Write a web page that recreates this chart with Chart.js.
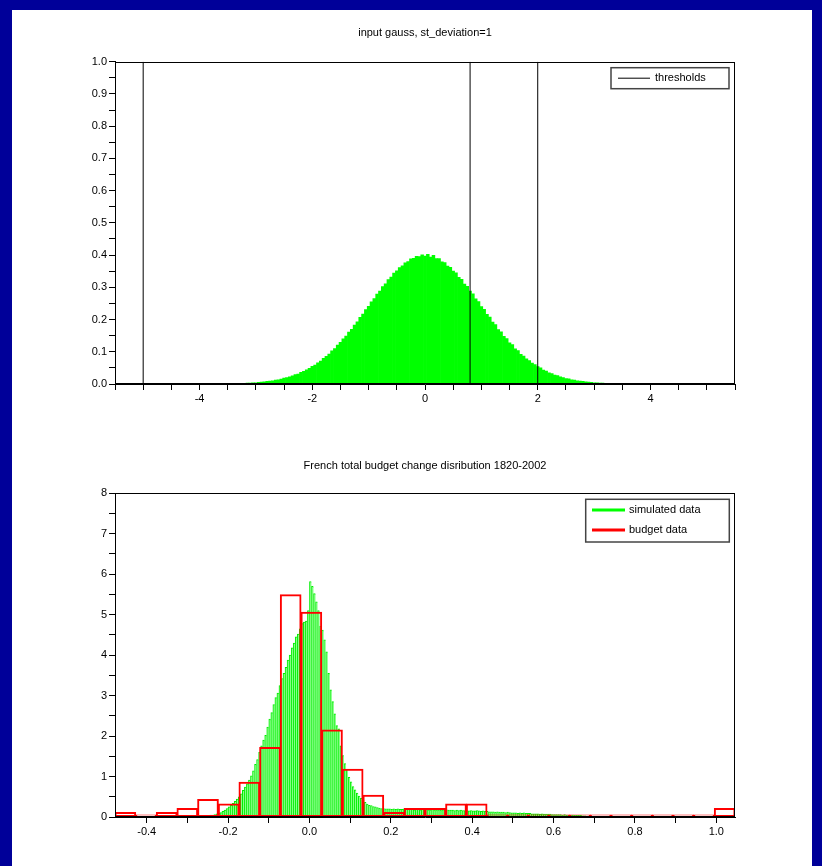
<!DOCTYPE html>
<html>
<head>
<meta charset="utf-8">
<script src="https://cdn.jsdelivr.net/npm/chart.js@4.4.1/dist/chart.umd.min.js"></script>
<style>
html,body{margin:0;padding:0;width:822px;height:866px;overflow:hidden;background:#000099;}
#panel{position:absolute;left:12px;top:10px;width:800px;height:856px;background:#ffffff;}
canvas{position:absolute;left:0;}
#c1{top:0;}
#c2{top:430px;}
</style>
</head>
<body>
<div id="panel"></div>
<canvas id="c1" width="822" height="430"></canvas>
<canvas id="c2" width="822" height="436"></canvas>
<script>
// ---------- DATA ----------
// Top chart: histogram of gaussian input (density), bin centres start at -3.5, width 0.05
const gaussTitle = 'input gauss, st_deviation=1';
const gaussFirstCenter = -3.5;
const gaussBinWidth = 0.05;
const gaussDensity = [
  0.000,0.000,0.001,0.001,0.002,0.002,0.002,0.003,0.003,0.004,
  0.004,0.005,0.006,0.007,0.008,0.009,0.010,0.012,0.013,0.015,
  0.018,0.020,0.022,0.025,0.029,0.031,0.036,0.039,0.044,0.049,
  0.055,0.059,0.066,0.071,0.080,0.086,0.093,0.103,0.110,0.121,
  0.129,0.140,0.149,0.161,0.170,0.183,0.193,0.207,0.217,0.231,
  0.241,0.255,0.265,0.279,0.288,0.302,0.311,0.324,0.332,0.344,
  0.351,0.361,0.367,0.376,0.380,0.388,0.390,0.396,0.395,0.401,
  0.397,0.402,0.394,0.399,0.389,0.389,0.379,0.377,0.366,0.362,
  0.350,0.345,0.331,0.325,0.310,0.303,0.288,0.280,0.264,0.256,
  0.240,0.232,0.216,0.208,0.192,0.184,0.169,0.162,0.148,0.141,
  0.128,0.122,0.109,0.104,0.092,0.087,0.078,0.073,0.065,0.060,
  0.054,0.050,0.043,0.040,0.035,0.032,0.028,0.026,0.022,0.020,
  0.017,0.016,0.013,0.012,0.010,0.009,0.008,0.007,0.006,0.005,
  0.004,0.004,0.003,0.003,0.002,0.002,0.002,0.001,0.001,0.000,
  0.000
];
const thresholds = [-5, 0.8, 2];
const thresholdLabel = 'thresholds';
const gaussXTicks = {min: -5.5, max: 5.5, step: 0.5, labelEvery: 2};
const gaussYTicks = {min: 0, max: 1, step: 0.05};

// Bottom chart
const budgetTitle = 'French total budget change disribution 1820-2002';
const simLabel = 'simulated data';
const simFirstCenter = -0.2975;
const simBinWidth = 0.005;
const simDensity = [
  0.01,0.01,0.01,0.02,0.02,0.02,0.03,0.03,0.03,0.04,
  0.04,0.05,0.05,0.06,0.08,0.09,0.11,0.14,0.17,0.21,
  0.25,0.29,0.34,0.39,0.44,0.50,0.57,0.66,0.74,0.82,
  0.91,1.02,1.14,1.30,1.42,1.60,1.76,1.90,2.02,2.22,
  2.42,2.58,2.78,2.95,3.06,3.25,3.42,3.55,3.70,3.88,
  4.00,4.18,4.30,4.45,4.52,4.65,4.78,4.82,4.84,5.10,
  5.82,5.70,5.52,5.32,5.10,4.72,4.62,4.38,4.08,3.55,
  3.14,2.85,2.55,2.26,2.18,1.76,1.52,1.32,1.18,0.98,
  0.87,0.75,0.67,0.59,0.52,0.46,0.42,0.36,0.32,0.29,
  0.28,0.26,0.25,0.23,0.22,0.21,0.21,0.20,0.20,0.20,
  0.19,0.20,0.19,0.20,0.19,0.19,0.20,0.19,0.19,0.19,
  0.19,0.18,0.19,0.19,0.18,0.19,0.18,0.19,0.18,0.18,
  0.19,0.18,0.18,0.18,0.17,0.18,0.17,0.18,0.17,0.17,
  0.17,0.16,0.17,0.16,0.17,0.16,0.16,0.16,0.15,0.16,
  0.15,0.15,0.16,0.15,0.14,0.15,0.14,0.14,0.13,0.13,
  0.13,0.12,0.13,0.12,0.12,0.12,0.11,0.12,0.11,0.10,
  0.10,0.10,0.09,0.10,0.09,0.10,0.09,0.09,0.09,0.08,
  0.08,0.08,0.08,0.07,0.08,0.07,0.07,0.07,0.07,0.06,
  0.06,0.06,0.06,0.06,0.05,0.06,0.05,0.05,0.05,0.05,
  0.04,0.04,0.04,0.04,0.03,0.03
];
const budgetLabel = 'budget data';
const budgetMin = -0.478;
const budgetBinWidth = 0.0508;
const budgetDensity = [
  0.11,0.00,0.11,0.21,0.43,0.32,0.86,1.72,5.49,5.06,
  2.15,1.18,0.54,0.11,0.21,0.21,0.32,0.32,0.00,0.00,
  0.00,0.00,0.00,0.00,0.00,0.00,0.00,0.00,0.00,0.21
];
const budgetXTicks = {min: -0.478, max: 1.046, step: 0.1};
const budgetYTicks = {min: 0, max: 8, step: 0.5};

// ---------- STYLE / HELPERS ----------
const FONT = '"Liberation Sans", Arial, Helvetica, sans-serif';
Chart.defaults.font.family = FONT;
Chart.defaults.font.size = 11;
Chart.defaults.color = '#000';

const frame = {
  id: 'frame',
  afterDraw(chart) {
    const a = chart.chartArea, ctx = chart.ctx;
    ctx.save();
    ctx.strokeStyle = '#000';
    ctx.lineWidth = 1;
    const l = Math.round(a.left) + 0.5, t = Math.round(a.top) + 0.5;
    const r = Math.round(a.right) - 0.5, b = Math.round(a.bottom) - 0.5;
    ctx.strokeRect(l, t, r - l, b - t);
    ctx.restore();
  }
};

const boxLegend = {
  id: 'boxLegend',
  afterDraw(chart, args, o) {
    if (!o || !o.display) return;
    const items = chart.data.datasets.filter(d => d.inLegend);
    const a = chart.chartArea, ctx = chart.ctx;
    const x1 = a.right - o.insetRight - o.width;
    const y1 = a.top + o.insetTop;
    ctx.save();
    ctx.fillStyle = '#fff';
    ctx.fillRect(x1, y1, o.width, o.height);
    ctx.strokeStyle = '#444';
    ctx.lineWidth = 1.5;
    ctx.strokeRect(x1, y1, o.width, o.height);
    ctx.font = '11px ' + FONT;
    ctx.textBaseline = 'middle';
    ctx.textAlign = 'left';
    items.forEach((d, i) => {
      const y = y1 + o.firstRow + i * o.rowGap;
      ctx.strokeStyle = d.legendColor;
      ctx.lineWidth = d.legendWidth;
      ctx.beginPath();
      ctx.moveTo(x1 + o.lineStart, y);
      ctx.lineTo(x1 + o.lineStart + o.lineLen, y);
      ctx.stroke();
      ctx.fillStyle = '#000';
      ctx.fillText(d.label, x1 + o.textStart, y);
    });
    ctx.restore();
  }
};

function axisCommon() {
  return {
    grid: {display: true, drawOnChartArea: false, drawTicks: true, tickLength: 6, color: '#000', offset: false},
    border: {display: true, color: '#000'},
  };
}

// ---------- TOP CHART ----------
const gaussPoints = gaussDensity.map((v, i) => ({x: gaussFirstCenter + i * gaussBinWidth, y: v}));
const thresholdPoints = [];
thresholds.forEach(t => { thresholdPoints.push({x: t, y: gaussYTicks.min}, {x: t, y: gaussYTicks.max}, {x: t, y: null}); });

new Chart(document.getElementById('c1'), {
  type: 'bar',
  data: {
    datasets: [
      {
        type: 'line', label: thresholdLabel, data: thresholdPoints,
        borderColor: '#000', borderWidth: 1, pointRadius: 0, spanGaps: false, fill: false,
        inLegend: true, legendColor: '#000', legendWidth: 1, order: 0
      },
      {
        type: 'bar', label: 'gauss', data: gaussPoints,
        backgroundColor: '#00ff00', borderWidth: 0, grouped: false,
        barPercentage: 1, categoryPercentage: 1, order: 1
      }
    ]
  },
  options: {
    responsive: false, animation: false, devicePixelRatio: 1,
    layout: {padding: {left: 0, right: 87, top: 0, bottom: 16}},
    plugins: {
      legend: {display: false},
      tooltip: {enabled: false},
      title: {display: true, text: gaussTitle, fullSize: false, color: '#000',
        font: {size: 11, weight: 'normal', family: FONT}, padding: {top: 26, bottom: 22.5}},
      boxLegend: {display: true, width: 118, height: 21, insetRight: 6, insetTop: 6,
        firstRow: 10.5, rowGap: 20, lineStart: 7, lineLen: 32, textStart: 44}
    },
    scales: {
      x: Object.assign(axisCommon(), {
        type: 'linear', min: gaussXTicks.min, max: gaussXTicks.max, offset: false,
        afterFit: s => { s.height = 30; },
        ticks: {stepSize: gaussXTicks.step, autoSkip: false, maxRotation: 0, padding: 2, includeBounds: false,
          callback: v => (Math.round(v / gaussXTicks.step) % (gaussXTicks.labelEvery / gaussXTicks.step) === 0) ? String(Math.round(v)) : ''}
      }),
      y: Object.assign(axisCommon(), {
        type: 'linear', min: gaussYTicks.min, max: gaussYTicks.max,
        afterFit: s => { s.width = 115; },
        ticks: {stepSize: gaussYTicks.step, autoSkip: false, padding: 2,
          callback: v => (Math.round(v * 100) % 10 === 0) ? (Math.round(v * 10) / 10).toFixed(1) : ''}
      })
    }
  },
  plugins: [frame, boxLegend]
});

// ---------- BOTTOM CHART ----------
const simPoints = simDensity.map((v, i) => ({x: simFirstCenter + i * simBinWidth, y: v}));
const budgetPoints = budgetDensity.map((v, i) => ({x: budgetMin + (i + 0.5) * budgetBinWidth, y: v}));

new Chart(document.getElementById('c2'), {
  type: 'bar',
  data: {
    datasets: [
      {
        label: simLabel, data: simPoints, xAxisID: 'x', grouped: false,
        backgroundColor: '#88ff88', borderColor: '#00ee00',
        borderWidth: {left: 1, top: 1, right: 0, bottom: 0}, borderSkipped: false,
        barPercentage: 1, categoryPercentage: 1, order: 2,
        inLegend: true, legendColor: '#00ff00', legendWidth: 3
      },
      {
        label: budgetLabel, data: budgetPoints, xAxisID: 'x2', grouped: false,
        backgroundColor: 'rgba(0,0,0,0)', borderColor: '#ff0000',
        borderWidth: 1, borderSkipped: false, inflateAmount: 0.5, minBarLength: 2,
        barPercentage: 1, categoryPercentage: 1, order: 1,
        inLegend: true, legendColor: '#ff0000', legendWidth: 3
      }
    ]
  },
  options: {
    responsive: false, animation: false, devicePixelRatio: 1,
    layout: {padding: {left: 0, right: 87, top: 0, bottom: 19}},
    plugins: {
      legend: {display: false},
      tooltip: {enabled: false},
      title: {display: true, text: budgetTitle, fullSize: false, color: '#000',
        font: {size: 11, weight: 'normal', family: FONT}, padding: {top: 29.4, bottom: 20.7}},
      boxLegend: {display: true, width: 143.6, height: 42.7, insetRight: 5.7, insetTop: 6,
        firstRow: 10.7, rowGap: 20, lineStart: 6.3, lineLen: 33, textStart: 43.3}
    },
    scales: {
      x: Object.assign(axisCommon(), {
        type: 'linear', min: budgetXTicks.min, max: budgetXTicks.max, offset: false,
        afterFit: s => { s.height = 30; },
        ticks: {stepSize: budgetXTicks.step, autoSkip: false, maxRotation: 0, padding: 2, includeBounds: false,
          callback: v => (Math.abs(Math.round(v * 10)) % 2 === 0) ? (Math.round(v * 10) / 10).toFixed(1) : ''}
      }),
      x2: {
        type: 'linear', display: false, min: budgetXTicks.min, max: budgetXTicks.max, offset: false,
        grid: {offset: false}, ticks: {stepSize: 0.5}
      },
      y: Object.assign(axisCommon(), {
        type: 'linear', min: budgetYTicks.min, max: budgetYTicks.max,
        afterFit: s => { s.width = 115; },
        ticks: {stepSize: budgetYTicks.step, autoSkip: false, padding: 2,
          callback: v => (Math.abs(v - Math.round(v)) < 1e-9) ? String(Math.round(v)) : ''}
      })
    }
  },
  plugins: [frame, boxLegend]
});
</script>
</body>
</html>
